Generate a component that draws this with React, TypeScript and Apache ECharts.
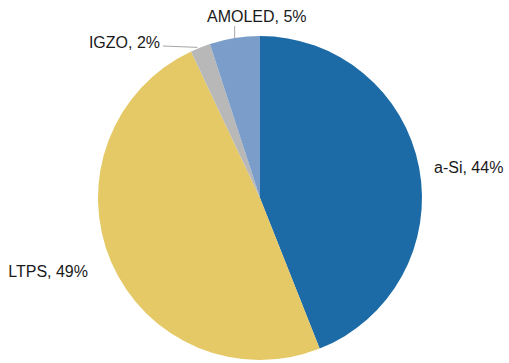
import React, { useEffect, useRef } from "react";
import * as echarts from "echarts";

// Display backplane technology share
const technologies = ["a-Si", "LTPS", "IGZO", "AMOLED"];
const shares = [44, 49, 2, 5];
const sliceColors = ["#1c6ba6", "#e4c966", "#b8b8b8", "#7b9dca"];

export default function App() {
  const ref = useRef<HTMLDivElement>(null);

  useEffect(() => {
    if (!ref.current) return;
    const chart = echarts.init(ref.current, null, { renderer: "svg" });

    // Label placement per slice: [x, y, align]
    const labelSpots: Record<string, [number, number, "left" | "right"]> = {
      "a-Si": [434, 167, "left"],
      LTPS: [88, 271, "right"],
      IGZO: [160, 42, "right"],
      AMOLED: [207, 16, "left"],
    };

    chart.setOption({
      animation: false,
      backgroundColor: "#ffffff",
      series: [
        {
          type: "pie",
          center: [260, 198],
          radius: 162,
          startAngle: 90,
          clockwise: true,
          avoidLabelOverlap: false,
          data: technologies.map((name, i) => ({
            name,
            value: shares[i],
            itemStyle: { color: sliceColors[i] },
            labelLine: { show: name === "IGZO" || name === "AMOLED" },
          })),
          label: {
            show: true,
            position: "outside",
            formatter: "{b}, {c}%",
            color: "#1a1a1a",
            fontSize: 16,
            fontFamily: "Liberation Sans, Arial, sans-serif",
          },
          labelLine: {
            lineStyle: { color: "#a6a6a6", width: 1 },
            smooth: false,
          },
          labelLayout: (params: any) => {
            const name = technologies[params.dataIndex];
            const [x, y, align] = labelSpots[name];
            const out: any = { x, y, align, verticalAlign: "middle" };
            const p0 = params.labelLinePoints && params.labelLinePoints[0];
            if (p0 && name === "IGZO") {
              out.labelLinePoints = [
                [p0[0] - 3, p0[1]],
                [163, 46],
                [163, 46],
              ];
            }
            if (p0 && name === "AMOLED") {
              out.labelLinePoints = [
                [p0[0], p0[1]],
                [p0[0], 26],
                [p0[0], 26],
              ];
            }
            return out;
          },
          itemStyle: { borderWidth: 0 },
          emphasis: { disabled: true },
        },
      ],
    });

    return () => chart.dispose();
  }, []);

  return (
    <div
      ref={ref}
      style={{ position: "fixed", left: 0, top: 0, width: 509, height: 363 }}
    />
  );
}
